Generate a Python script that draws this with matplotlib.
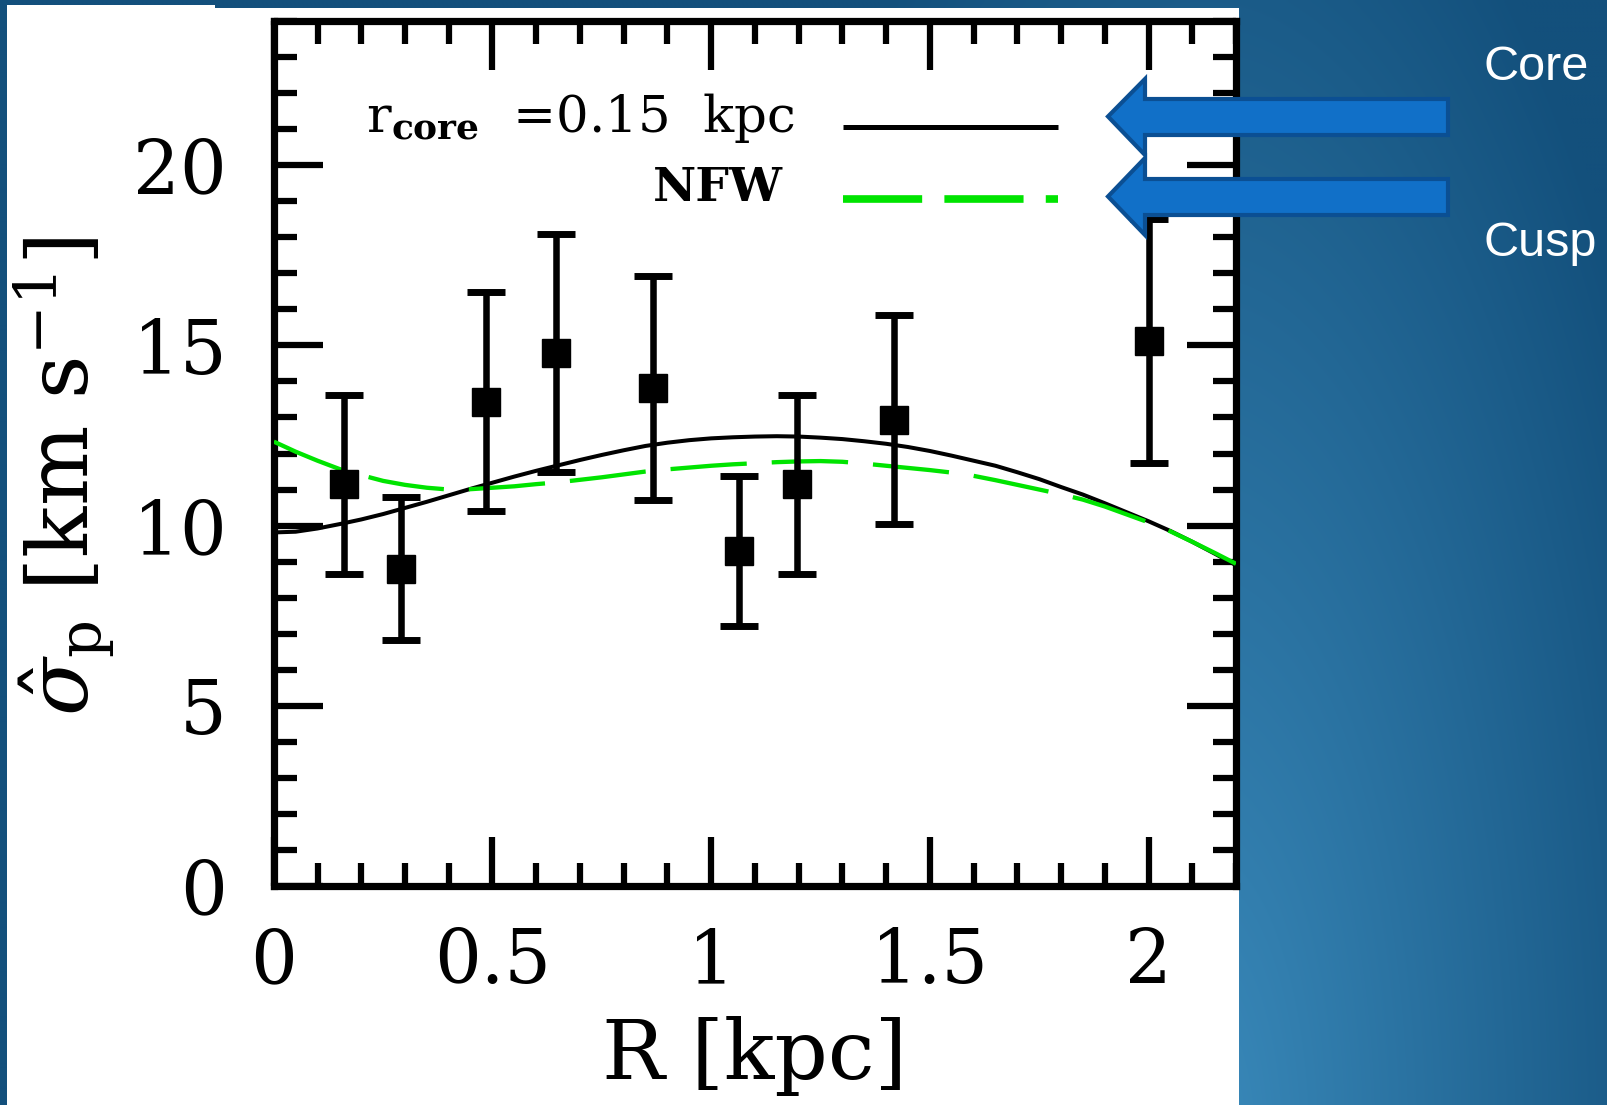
import numpy as np
import matplotlib
matplotlib.use("Agg")
import matplotlib.pyplot as plt
from matplotlib.patches import Rectangle, Polygon
from matplotlib.lines import Line2D

# ---------------- data ----------------
R_obs = [0.161, 0.290, 0.485, 0.646, 0.868, 1.063, 1.197, 1.418, 2.001]
sigma_obs = [11.14, 8.80, 13.44, 14.78, 13.81, 9.29, 11.14, 12.94, 15.12]
sigma_err = [2.49, 1.98, 3.03, 3.30, 3.11, 2.08, 2.49, 2.90, 3.38]

R_model = [0.00, 0.05, 0.10, 0.15, 0.20, 0.25, 0.30, 0.35, 0.40, 0.45, 0.50,
           0.55, 0.60, 0.65, 0.70, 0.75, 0.80, 0.85, 0.90, 0.95, 1.00, 1.05,
           1.10, 1.15, 1.20, 1.25, 1.30, 1.35, 1.40, 1.45, 1.50, 1.55, 1.60,
           1.65, 1.70, 1.75, 1.80, 1.85, 1.90, 1.95, 2.00, 2.05, 2.10, 2.15, 2.20]
sigma_core = [9.81, 9.83, 9.92, 10.04, 10.17, 10.32, 10.49, 10.66, 10.84, 11.02, 11.19,
              11.36, 11.52, 11.67, 11.82, 11.96, 12.09, 12.21, 12.30, 12.37, 12.42, 12.45,
              12.47, 12.48, 12.47, 12.44, 12.40, 12.34, 12.27, 12.18, 12.07, 11.94, 11.80,
              11.66, 11.48, 11.29, 11.07, 10.86, 10.62, 10.37, 10.12, 9.85, 9.55, 9.23, 8.90]
sigma_nfw = [12.33, 12.05, 11.80, 11.57, 11.40, 11.24, 11.13, 11.05, 11.00, 11.01, 11.05,
             11.09, 11.15, 11.20, 11.27, 11.34, 11.42, 11.50, 11.56, 11.61, 11.66, 11.70,
             11.73, 11.76, 11.78, 11.79, 11.77, 11.72, 11.66, 11.60, 11.54, 11.47, 11.38,
             11.26, 11.13, 11.00, 10.87, 10.72, 10.53, 10.31, 10.09, 9.84, 9.55, 9.25, 8.94]

x_ticks = [0, 0.5, 1, 1.5, 2]
x_ticklabels = ["0", "0.5", "1", "1.5", "2"]
y_ticks = [0, 5, 10, 15, 20]
y_ticklabels = ["0", "5", "10", "15", "20"]

legend_labels = [r"r$_{\mathbf{core}}$  =0.15  kpc", "NFW"]
side_labels = ["Core", "Cusp"]
x_label = "R [kpc]"
y_label = r"$\hat{\sigma}_{\rm p}$ [km s$^{-1}$]"

# ---------------- styling ----------------
plt.rcParams["font.family"] = ["DejaVu Serif"]
plt.rcParams["mathtext.fontset"] = "dejavuserif"
plt.rcParams["lines.scale_dashes"] = False

W, H = 1608, 1105
fig = plt.figure(figsize=(W / 100, H / 100), dpi=100)


def fx(x):
    return x / W


def fy(y):
    return 1 - y / H


# background gradient (slide)
bg = fig.add_axes([0, 0, 1, 1], zorder=0)
yy, xx = np.mgrid[0:H:4, 0:W:4]
t = np.clip(np.sqrt(((xx - 1200) / 520.0) ** 2 + ((yy - 1150) / 1450.0) ** 2), 0, 1)
light = np.array([0x3a, 0x8a, 0xbb]) / 255.0
dark = np.array([0x13, 0x50, 0x7c]) / 255.0
img = light[None, None, :] * (1 - t[..., None]) + dark[None, None, :] * t[..., None]
bg.imshow(img, extent=[0, W, H, 0], aspect="auto", interpolation="bilinear")
bg.set_xlim(0, W)
bg.set_ylim(H, 0)
bg.axis("off")

# white picture panel
fig.patches.append(Rectangle((fx(7), 0), fx(215) - fx(7), fy(5), transform=fig.transFigure,
                             facecolor="white", edgecolor="none", zorder=1))
fig.patches.append(Rectangle((fx(215), 0), fx(1239) - fx(215), fy(8), transform=fig.transFigure,
                             facecolor="white", edgecolor="none", zorder=1))

# main axes
left, right, top, bottom = 273.8, 1236.0, 21.0, 886.0
ax = fig.add_axes([fx(left), fy(bottom), fx(right) - fx(left), (bottom - top) / H], zorder=2)
ax.set_facecolor("none")

ax.plot(R_model, sigma_core, color="black", lw=2.9, zorder=3, solid_capstyle="butt",
        solid_joinstyle="round")
ax.plot(R_model, sigma_nfw, color="#00e400", lw=3.1, dashes=(55, 18), zorder=3.5,
        dash_capstyle="butt")
ax.errorbar(R_obs, sigma_obs, yerr=sigma_err, fmt="s", color="black", ms=20.5,
            elinewidth=4.7, capsize=14, capthick=5, zorder=4)

ax.set_xlim(0, 2.2)
ax.set_ylim(0, 24)
ax.set_xticks(x_ticks, x_ticklabels)
ax.set_yticks(y_ticks, y_ticklabels)
ax.set_xticks(np.arange(0, 2.21, 0.1), minor=True)
ax.set_yticks(np.arange(0, 24.1, 1), minor=True)
ax.tick_params(which="both", direction="in", top=True, right=True, width=4.5, color="black")
ax.tick_params(which="major", length=35)
ax.tick_params(which="minor", length=16.5)
ax.tick_params(axis="x", which="major", labelsize=53, pad=29)
ax.tick_params(axis="y", which="major", labelsize=53, pad=34)
for sp in ax.spines.values():
    sp.set_linewidth(5.2)

ax.set_xlabel(x_label, fontsize=60)
ax.xaxis.set_label_coords(0.5, -0.150)
ax.set_ylabel(y_label, fontsize=61, va="center")
ax.yaxis.set_label_coords(-0.218, 0.473)

# legend (text right-aligned, line to the right)
ax.text(0.5417, 0.8715, legend_labels[0], transform=ax.transAxes, fontsize=37,
        ha="right", va="baseline")
ax.text(0.5292, 0.792, legend_labels[1], transform=ax.transAxes, fontsize=34,
        fontweight="semibold", ha="right", va="baseline")
ax.add_line(Line2D([0.5917, 0.8151], [0.8773, 0.8773], transform=ax.transAxes,
                   color="black", lw=3.6, solid_capstyle="butt"))
ax.add_line(Line2D([0.5917, 0.8151], [0.794, 0.794], transform=ax.transAxes,
                   color="#00e400", lw=5.5, dashes=(57, 16), dash_capstyle="butt"))

# arrows pointing at legend entries
arrow_specs = [(116.5, 79, 155, 99, 135), (196.5, 158, 235, 179, 215)]
tip_x, head_x, end_x = 1108, 1145, 1448
for tip_y, h_top, h_bot, s_top, s_bot in arrow_specs:
    pts = [(tip_x, tip_y), (head_x, h_top), (head_x, s_top), (end_x, s_top),
           (end_x, s_bot), (head_x, s_bot), (head_x, h_bot)]
    poly = Polygon([(fx(px), fy(py)) for px, py in pts], closed=True,
                   transform=fig.transFigure, facecolor="#1170c8",
                   edgecolor="#0b4f93", lw=3, joinstyle="miter", zorder=5)
    fig.patches.append(poly)

fig.text(fx(1484), fy(80), side_labels[0], fontsize=35, color="white",
         family="Liberation Sans", va="baseline", ha="left", zorder=6)
fig.text(fx(1484), fy(256), side_labels[1], fontsize=35, color="white",
         family="Liberation Sans", va="baseline", ha="left", zorder=6)

fig.savefig("out.png", dpi=100)
